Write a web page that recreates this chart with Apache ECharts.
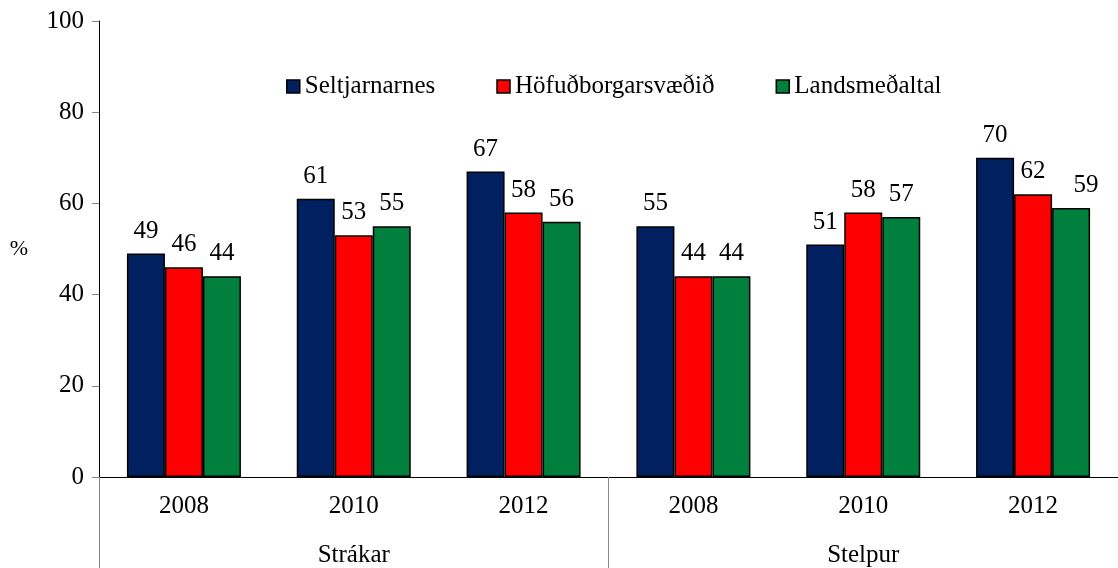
<!DOCTYPE html>
<html>
<head>
<meta charset="utf-8">
<script src="https://cdn.jsdelivr.net/npm/echarts@6/dist/echarts.min.js"></script>
</head>
<body style="margin:0">
<div id="main" style="width:1118px;height:568px"></div>
<script>
    // gögn
    var years = ['2008', '2010', '2012', '2008', '2010', '2012'];
    var groups = ['Strákar', 'Stelpur'];
    var seriesNames = ['Seltjarnarnes', 'Höfuðborgarsvæðið', 'Landsmeðaltal'];
    var seltjarnarnes = [49, 61, 67, 55, 51, 70];
    var hofudborg = [46, 53, 58, 44, 58, 62];
    var landsmedaltal = [44, 55, 56, 44, 57, 59];
    var yTicks = [0, 20, 40, 60, 80, 100];

    var colors = ['#002060', '#FF0000', '#00803C'];
    var allData = [seltjarnarnes, hofudborg, landsmedaltal];

    var c = echarts.init(document.getElementById('main'));

    var barSeries = allData.map(function (arr, i) {
        return {
            name: seriesNames[i],
            type: 'bar',
            barWidth: 38,
            barGap: '0%',
            itemStyle: { color: colors[i], borderColor: '#000', borderWidth: 1.5 },
            label: {
                show: true,
                position: 'top',
                distance: 10,
                fontFamily: 'Liberation Serif',
                fontSize: 25,
                color: '#000'
            },
            data: arr.map(function (v, j) {
                // síðasti merkimiðinn færður aðeins til hægri eins og í frumriti
                if (i === 2 && j === 5) return { value: v, label: { offset: [15, 0] } };
                return v;
            })
        };
    });

    c.setOption({
        legend: {
            data: seriesNames,
            left: 281,
            top: 69,
            icon: 'rect',
            itemWidth: 13,
            itemHeight: 13,
            itemGap: 61,
            itemStyle: { borderColor: '#000', borderWidth: 1.5 },
            textStyle: { fontFamily: 'Liberation Serif', fontSize: 25, color: '#000' }
        },
        grid: { left: 99, right: -2, top: 21, bottom: 91 },
        xAxis: [{
            type: 'category',
            data: years,
            position: 'bottom',
            axisLine: { lineStyle: { color: '#000', width: 1 } },
            axisTick: { length: 46, lineStyle: { color: '#888' } },
            axisLabel: { margin: 17, fontFamily: 'Liberation Serif', fontSize: 25, color: '#000' }
        }, {
            type: 'category',
            data: groups,
            position: 'bottom',
            axisLine: { show: false },
            axisTick: { show: true, length: 92, lineStyle: { color: '#888' } },
            axisLabel: { margin: 66, fontFamily: 'Liberation Serif', fontSize: 25, color: '#000' }
        }],
        yAxis: {
            type: 'value',
            min: yTicks[0],
            max: yTicks[yTicks.length - 1],
            interval: 20,
            name: '%',
            nameLocation: 'middle',
            nameRotate: 0,
            nameGap: 71,
            nameTextStyle: { fontFamily: 'Liberation Serif', fontSize: 22, color: '#000' },
            axisLine: { show: true, lineStyle: { color: '#000', width: 1 } },
            axisTick: { show: true, length: 7, lineStyle: { color: '#888' } },
            axisLabel: { margin: 15, fontFamily: 'Liberation Serif', fontSize: 25, color: '#000' },
            splitLine: { show: false }
        },
        series: barSeries
    });
</script>
</body>
</html>
